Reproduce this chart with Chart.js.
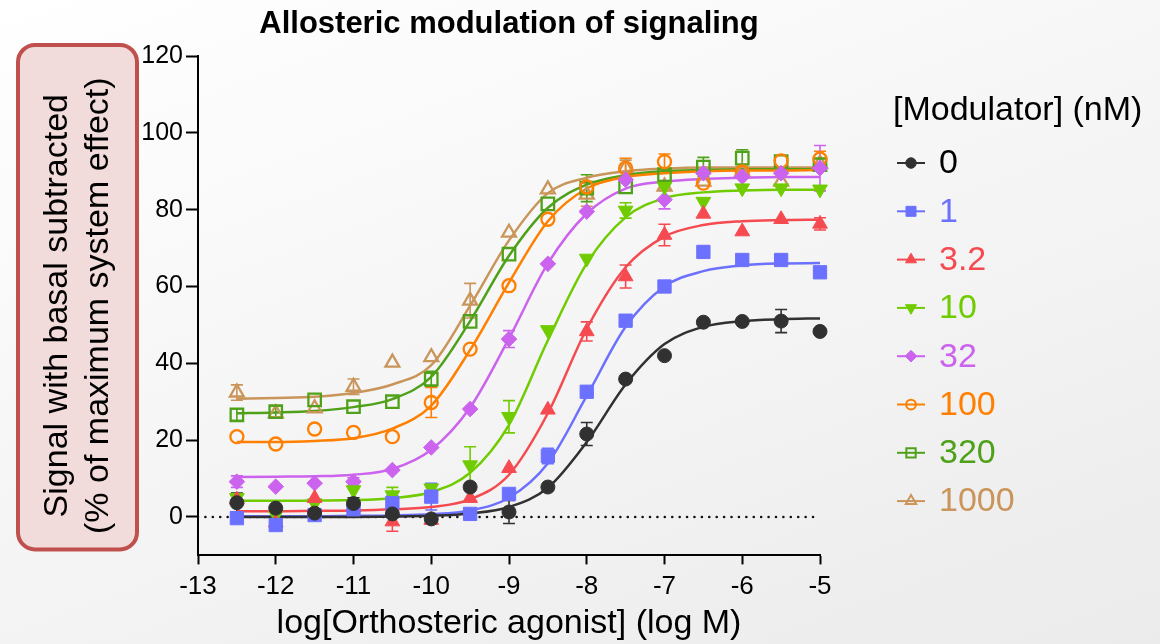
<!DOCTYPE html>
<html>
<head>
<meta charset="utf-8">
<title>Allosteric modulation of signaling</title>
<script src="https://cdn.jsdelivr.net/npm/chart.js@4.4.0/dist/chart.umd.min.js"></script>
<style>
  html, body { margin: 0; padding: 0; }
  body {
    width: 1160px;
    height: 644px;
    overflow: hidden;
    background: linear-gradient(160deg, #ffffff 0%, #f4f4f4 55%, #ebebeb 100%);
  }
  canvas { display: block; }
</style>
</head>
<body>
<canvas id="chart" width="1160" height="644"></canvas>
<script>
// Axis ticks and x positions (log M)
const xTicks = [-13, -12, -11, -10, -9, -8, -7, -6, -5];
const yTicks = [0, 20, 40, 60, 80, 100, 120];
const logAgonist = [-12.5, -12, -11.5, -11, -10.5, -10, -9.5, -9, -8.5, -8, -7.5, -7, -6.5, -6, -5.5, -5];
const modulatorNM = ['0', '1', '3.2', '10', '32', '100', '320', '1000'];

const resp0 = [3.7, 2.3, 1.0, 3.5, 0.8, -0.5, 7.8, 1.3, 7.8, 21.6, 35.9, 42.0, 50.7, 50.9, 51.0, 48.3];
const resp1 = [-0.3, -2.1, 0.5, 2.0, 3.6, 5.3, 0.8, 6.0, 15.9, 32.6, 51.1, 60.0, 69.0, 66.9, 66.9, 63.7];
const resp3_2 = [4.5, -1.5, 4.9, 2.5, -1.2, -0.8, 4.9, 12.7, 27.9, 48.3, 62.6, 73.4, 78.9, 74.3, 77.5, 76.3];
const resp10 = [5.0, 0.5, 3.6, 7.0, 5.7, 7.5, 13.5, 26.1, 48.7, 67.3, 79.8, 86.0, 82.1, 85.6, 85.6, 85.3];
const resp32 = [9.2, 7.9, 8.8, 9.2, 12.2, 18.1, 28.1, 46.3, 65.9, 79.5, 87.8, 82.6, 89.5, 88.6, 89.5, 90.8];
const resp100 = [20.9, 19.0, 22.9, 22.0, 20.9, 29.8, 43.7, 60.2, 77.5, 85.9, 90.8, 92.5, 86.9, 89.8, 92.7, 93.2];
const resp320 = [26.6, 27.4, 30.5, 28.7, 30.0, 35.9, 50.9, 68.4, 81.5, 85.6, 85.9, 89.1, 91.1, 93.4, 92.5, 91.7];
const resp1000 = [32.4, 27.0, 28.3, 33.9, 40.2, 41.6, 56.3, 74.0, 85.3, 83.9, 90.9, 86.0, 87.3, 89.9, 87.3, 92.0];

// Error bars (SEM), 0 where no bar is visible
const sem0 = [2.5, 0, 0, 1.5, 0, 0, 0, 3, 0, 3, 0, 0, 0, 0, 3, 0];
const sem1 = [1, 0, 0, 0, 2, 3.5, 0, 0, 2, 0, 0, 0, 0, 0, 0, 0];
const sem3_2 = [0, 0, 0, 0, 2.5, 1, 0, 0, 0, 2.5, 3, 2.8, 0, 0, 0, 1.6];
const sem10 = [0, 0, 0, 2, 2, 0, 4.8, 4.2, 0, 0, 2, 0, 0, 0, 0, 0];
const sem32 = [1.5, 0, 0, 1, 0, 0, 0, 2.2, 0, 0, 0, 2.4, 0, 0, 0, 5.9];
const sem100 = [0, 0, 0, 0, 0, 3.9, 0, 0, 0, 0, 2.6, 2, 0, 0, 0, 2];
const sem320 = [1.5, 1.5, 0, 0, 0, 2, 0, 0, 0, 3.5, 0, 0, 2.5, 2.2, 0, 0];
const sem1000 = [2, 0, 0, 2, 0, 0, 4.5, 0, 0, 3, 2, 0, 0, 0, 0, 0];

// Fitted curves at the same x positions
const fit0 = [0, 0, 0, 0, 0.1, 0.3, 0.9, 2.6, 7.6, 19.5, 34.5, 45.0, 49.5, 51.0, 51.5, 51.7];
const fit1 = [0.2, 0.2, 0.2, 0.3, 0.4, 0.7, 1.7, 5.0, 14.0, 31.5, 49.5, 60.0, 64.0, 65.5, 66.0, 66.1];
const fit3_2 = [1.5, 1.5, 1.6, 1.7, 2.0, 2.6, 4.6, 11.0, 27.0, 49.0, 65.0, 73.0, 76.0, 77.0, 77.3, 77.4];
const fit10 = [4.2, 4.2, 4.3, 4.4, 4.9, 6.5, 11.5, 24.0, 46.0, 66.0, 78.0, 83.0, 84.5, 85.0, 85.2, 85.2];
const fit32 = [10.4, 10.5, 10.6, 11.0, 12.5, 17.5, 28.5, 46.5, 66.0, 79.0, 85.5, 87.3, 88.0, 88.3, 88.5, 88.5];
const fit100 = [19.5, 19.5, 19.8, 20.5, 23.0, 29.0, 43.5, 61.0, 77.0, 85.5, 88.5, 89.5, 90.0, 90.2, 90.2, 90.3];
const fit320 = [27.0, 27.2, 27.6, 28.6, 30.7, 36.5, 51.0, 68.0, 80.5, 86.5, 89.0, 90.0, 90.3, 90.5, 90.5, 90.5];
const fit1000 = [30.8, 31.0, 31.3, 32.3, 34.5, 39.5, 55.0, 72.0, 84.3, 88.3, 90.0, 90.7, 91.0, 91.0, 91.0, 91.0];

const responses = [resp0, resp1, resp3_2, resp10, resp32, resp100, resp320, resp1000];
const sems = [sem0, sem1, sem3_2, sem10, sem32, sem100, sem320, sem1000];
const fits = [fit0, fit1, fit3_2, fit10, fit32, fit100, fit320, fit1000];

// Styles
const FONT = "'Liberation Sans', Arial, Helvetica, sans-serif";
const colors = ['#313131', '#6c70ff', '#f54b50', '#70cc00', '#cc63ee', '#ff7f00', '#4fa11a', '#c9955a'];
const markers = [
    { style: 'circle', radius: 7, filled: true, rotation: 0 },
    { style: 'rect', radius: 9.4, filled: true, rotation: 0 },
    { style: 'triangle', radius: 8.5, filled: true, rotation: 0 },
    { style: 'triangle', radius: 8.5, filled: true, rotation: 180 },
    { style: 'rectRot', radius: 7.8, filled: true, rotation: 0 },
    { style: 'circle', radius: 6.5, filled: false, rotation: 0 },
    { style: 'rect', radius: 8.8, filled: false, rotation: 0 },
    { style: 'triangle', radius: 8, filled: false, rotation: 0 }
];

function toPoints(ys) {
    return ys.map((v, i) => ({ x: logAgonist[i], y: v }));
}

// Build datasets: symbols first (drawn on top), then fitted curves, then the zero line
function buildDatasets() {
    const sets = [];
    responses.forEach((resp, i) => {
        const m = markers[i];
        sets.push({
            label: modulatorNM[i],
            data: toPoints(resp),
            showLine: false,
            pointStyle: m.style,
            pointRotation: m.rotation,
            pointRadius: m.radius,
            pointBackgroundColor: m.filled ? colors[i] : 'rgba(0,0,0,0)',
            pointBorderColor: colors[i],
            pointBorderWidth: m.filled ? 1 : 2.3,
            clip: false
        });
    });
    fits.forEach((fit, i) => {
        sets.push({
            label: 'fit ' + modulatorNM[i],
            data: toPoints(fit),
            showLine: true,
            borderColor: colors[i],
            borderWidth: 2.5,
            cubicInterpolationMode: 'monotone',
            pointRadius: 0,
            fill: false
        });
    });
    sets.push({
        label: 'zero',
        data: [{ x: xTicks[0], y: 0 }, { x: xTicks[xTicks.length - 1], y: 0 }],
        showLine: true,
        borderColor: '#111',
        borderWidth: 2.6,
        borderCapStyle: 'round',
        borderDash: [0.01, 7.4],
        pointRadius: 0
    });
    return sets;
}

function drawMarker(ctx, i, x, y, scale) {
    const m = markers[i];
    ctx.fillStyle = m.filled ? colors[i] : 'rgba(0,0,0,0)';
    ctx.strokeStyle = colors[i];
    ctx.lineWidth = m.filled ? 1 : 2;
    Chart.helpers.drawPoint(ctx, {
        pointStyle: m.style,
        radius: m.radius * scale,
        rotation: m.rotation,
        borderWidth: ctx.lineWidth
    }, x, y);
}

// Rounded pink box behind the y-axis title
const titleBoxPlugin = {
    id: 'titleBox',
    beforeDraw(chart) {
        const ctx = chart.ctx;
        const { top, bottom } = chart.chartArea;
        const x = 18, w = 119, y = top - 11, h = bottom - top + 5, r = 17;
        ctx.save();
        ctx.beginPath();
        ctx.moveTo(x + r, y);
        ctx.arcTo(x + w, y, x + w, y + h, r);
        ctx.arcTo(x + w, y + h, x, y + h, r);
        ctx.arcTo(x, y + h, x, y, r);
        ctx.arcTo(x, y, x + w, y, r);
        ctx.closePath();
        ctx.fillStyle = '#f2dcdb';
        ctx.fill();
        ctx.lineWidth = 4;
        ctx.strokeStyle = '#c0504d';
        ctx.stroke();
        ctx.restore();
    }
};

// Error bars drawn under the symbols
const errorBarPlugin = {
    id: 'errorBars',
    beforeDatasetsDraw(chart) {
        const { ctx, scales: { x, y } } = chart;
        ctx.save();
        ctx.lineWidth = 1.6;
        for (let s = responses.length - 1; s >= 0; s--) {
            ctx.strokeStyle = colors[s];
            responses[s].forEach((v, i) => {
                const e = sems[s][i];
                if (!e) return;
                const px = x.getPixelForValue(logAgonist[i]);
                const top = y.getPixelForValue(v + e);
                const bot = y.getPixelForValue(v - e);
                ctx.beginPath();
                ctx.moveTo(px, top); ctx.lineTo(px, bot);
                ctx.moveTo(px - 6, top); ctx.lineTo(px + 6, top);
                ctx.moveTo(px - 6, bot); ctx.lineTo(px + 6, bot);
                ctx.stroke();
            });
        }
        ctx.restore();
    }
};

// Legend with line + symbol and coloured labels
const legendPlugin = {
    id: 'modLegend',
    afterDraw(chart) {
        const { ctx, chartArea } = chart;
        const left = chartArea.right + 73;
        ctx.save();
        ctx.font = '34px ' + FONT;
        ctx.textBaseline = 'middle';
        ctx.textAlign = 'left';
        ctx.fillStyle = '#000';
        ctx.fillText('[Modulator] (nM)', left, 111);
        modulatorNM.forEach((lab, i) => {
            const cy = 163 + i * 48.3;
            ctx.strokeStyle = colors[i];
            ctx.lineWidth = 2;
            ctx.beginPath();
            ctx.moveTo(left + 4, cy);
            ctx.lineTo(left + 32, cy);
            ctx.stroke();
            drawMarker(ctx, i, left + 18, cy, 0.75);
            ctx.fillStyle = i === 0 ? '#000' : colors[i];
            ctx.fillText(lab, left + 46, cy + 1);
        });
        ctx.restore();
    }
};

const ctx = document.getElementById('chart').getContext('2d');
new Chart(ctx, {
    type: 'scatter',
    data: { datasets: buildDatasets() },
    options: {
        responsive: false,
        animation: false,
        layout: { padding: { left: 0, right: 340, top: 0, bottom: 0 } },
        plugins: {
            legend: { display: false },
            tooltip: { enabled: false },
            title: {
                display: true,
                text: 'Allosteric modulation of signaling',
                fullSize: false,
                color: '#000',
                font: { family: FONT, size: 31, weight: 'bold' },
                padding: { top: 6, bottom: 12.8 }
            }
        },
        scales: {
            x: {
                type: 'linear',
                min: xTicks[0],
                max: xTicks[xTicks.length - 1],
                afterBuildTicks: (scale) => { scale.ticks = xTicks.map(v => ({ value: v })); },
                afterFit: (scale) => { scale.height = 88.6; },
                border: { display: true, color: '#000', width: 2 },
                grid: { drawOnChartArea: false, drawTicks: true, tickLength: 9, tickWidth: 2, tickColor: '#000', color: '#000' },
                ticks: { color: '#000', font: { family: FONT, size: 26 }, padding: 7, maxRotation: 0, autoSkip: false },
                title: {
                    display: true,
                    text: 'log[Orthosteric agonist] (log M)',
                    color: '#000',
                    font: { family: FONT, size: 34 },
                    padding: { top: 0, bottom: 0 }
                }
            },
            y: {
                type: 'linear',
                min: -10,
                max: 120,
                afterBuildTicks: (scale) => { scale.ticks = yTicks.map(v => ({ value: v })); },
                afterFit: (scale) => { scale.width = 198; },
                border: { display: true, color: '#000', width: 2 },
                grid: { drawOnChartArea: false, drawTicks: true, tickLength: 12, tickWidth: 2, tickColor: '#000', color: '#000' },
                ticks: { color: '#000', font: { family: FONT, size: 25 }, padding: 3 },
                title: {
                    display: true,
                    text: ['Signal with basal subtracted', '(% of maximum system effect)'],
                    color: '#000',
                    font: { family: FONT, size: 34 },
                    padding: { top: 37.6, bottom: 0 }
                }
            }
        }
    },
    plugins: [titleBoxPlugin, errorBarPlugin, legendPlugin]
});
</script>
</body>
</html>
